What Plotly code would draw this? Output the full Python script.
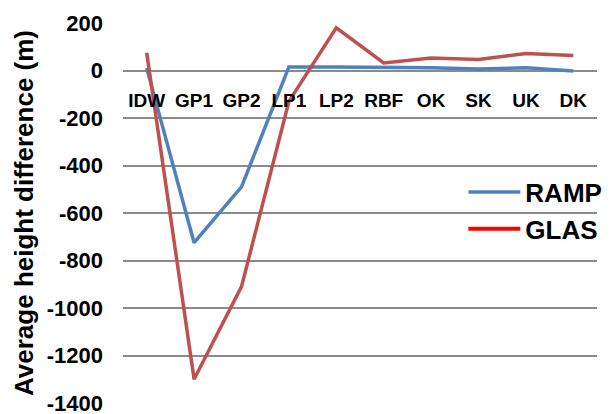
import plotly.graph_objects as go

categories = ["IDW", "GP1", "GP2", "LP1", "LP2", "RBF", "OK", "SK", "UK", "DK"]
ramp = [10, -725, -490, 15, 15, 14, 12, 6, 12, -2]
glas = [75, -1300, -910, -130, 180, 32, 53, 46, 72, 63]
y_ticks = [200, 0, -200, -400, -600, -800, -1000, -1200, -1400]
y_tick_labels = [str(v) for v in y_ticks]

ymin, ymax = -1400, 200
font_family = "Liberation Sans, Arial, sans-serif"

fig = go.Figure()
fig.add_trace(go.Scatter(x=categories, y=ramp, mode="lines", name="RAMP",
                         line=dict(color="#4F81BD", width=3.5)))
fig.add_trace(go.Scatter(x=categories, y=glas, mode="lines", name="GLAS",
                         showlegend=False,
                         line=dict(color="#C0504D", width=3.5)))
fig.add_trace(go.Scatter(x=[None], y=[None], mode="lines", name="GLAS",
                         line=dict(color="#FF0000", width=4)))

fig.update_layout(
    width=611, height=414,
    margin=dict(l=115, r=17, t=15, b=19),
    paper_bgcolor="white", plot_bgcolor="white",
    font=dict(family=font_family, color="#000000"),
    showlegend=True,
    legend=dict(x=0.718, y=0.617, xanchor="left", yanchor="top",
                font=dict(size=26, family=font_family, weight="bold"),
                bgcolor="rgba(0,0,0,0)", tracegroupgap=0, itemwidth=52),
    xaxis=dict(
        type="category", automargin=False,
        anchor="free", position=(0 - ymin) / (ymax - ymin),
        showgrid=False, showline=False, zeroline=False,
        ticks="", ticklabelstandoff=16,
        tickfont=dict(size=19, family=font_family, weight="bold"),
        range=[-0.5, len(categories) - 0.5],
    ),
    yaxis=dict(
        range=[ymin, ymax], domain=[0, 1], automargin=False,
        tickvals=y_ticks, ticktext=y_tick_labels,
        showgrid=True, gridcolor="#8A8A8A", gridwidth=1.5,
        zeroline=False, showline=False, ticks="",
        ticklabelstandoff=19,
        tickfont=dict(size=22, family=font_family, weight="bold"),
        title=dict(text="Average height difference (m)",
                   font=dict(size=26, family=font_family, weight="bold"),
                   standoff=5),
    ),
)

fig.write_html("out.html")
